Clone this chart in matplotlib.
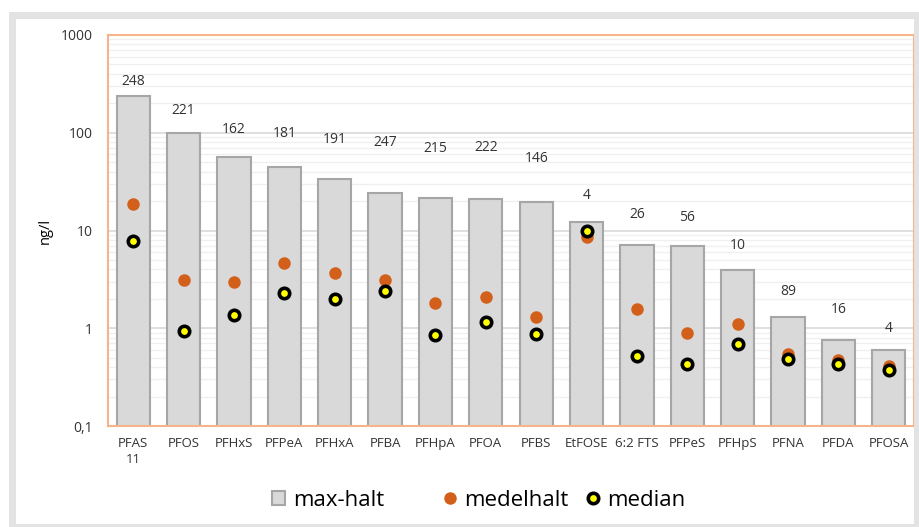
import matplotlib.pyplot as plt
from matplotlib.patches import Rectangle
from matplotlib.ticker import FixedLocator, LogLocator, NullFormatter

plt.rcParams['font.family'] = ['Open Sans', 'DejaVu Sans']

categories = ['PFAS\n11', 'PFOS', 'PFHxS', 'PFPeA', 'PFHxA', 'PFBA', 'PFHpA', 'PFOA',
              'PFBS', 'EtFOSE', '6:2 FTS', 'PFPeS', 'PFHpS', 'PFNA', 'PFDA', 'PFOSA']
max_halt = [236, 100, 57, 45, 34, 24, 21.4, 21, 19.5, 12.1, 7.1, 6.9, 3.9, 1.3, 0.75, 0.6]
medelhalt = [18.5, 3.1, 3.0, 4.7, 3.65, 3.1, 1.8, 2.08, 1.3, 8.5, 1.56, 0.89, 1.1, 0.54, 0.47, 0.41]
median = [7.9, 0.93, 1.36, 2.28, 1.98, 2.39, 0.85, 1.15, 0.87, 9.8, 0.52, 0.43, 0.69, 0.49, 0.43, 0.37]
# antal prover, visas som etiketter
antal = [248, 221, 162, 181, 191, 247, 215, 222, 146, 4, 26, 56, 10, 89, 16, 4]
antal_y = [336, 170, 109, 99, 86, 80, 69, 71, 55, 23, 14.7, 13.7, 7.1, 2.4, 1.56, 1.0]

orange = '#D2601A'
frame = '#F6B48A'

fig = plt.figure(figsize=(9.19, 5.27), dpi=100)
fig.patches.append(Rectangle((12 / 919, 0), 905 / 919, 1 - 15 / 527, transform=fig.transFigure,
                             fill=False, edgecolor='#E3E3E3', linewidth=5))
ax = fig.add_axes([108 / 919, 1 - 426 / 527, 806 / 919, 391 / 527])

x = range(len(categories))
bars = ax.bar(x, max_halt, width=0.66, color='#D9D9D9', edgecolor='#A6A6A6', linewidth=1.5,
              label='max-halt', zorder=2)
m1, = ax.plot(x, medelhalt, 'o', color=orange, markersize=9, markeredgewidth=0,
              label='medelhalt', zorder=3)
m2, = ax.plot(x, median, 'o', markerfacecolor='#FFFF00', markeredgecolor='black', markersize=7.5,
              markeredgewidth=2.6, label='median', zorder=4)

for i, (n, y) in enumerate(zip(antal, antal_y)):
    ax.text(i, y, str(n), ha='center', va='center', fontsize=10, color='#333333', zorder=5)

ax.set_yscale('log')
ax.set_ylim(0.1, 1000)
ax.set_xlim(-0.5, len(categories) - 0.5)
ax.yaxis.set_major_locator(FixedLocator([0.1, 1, 10, 100, 1000]))
ax.set_yticklabels(['0,1', '1', '10', '100', '1000'])
ax.yaxis.set_minor_locator(LogLocator(base=10, subs=range(2, 10)))
ax.yaxis.set_minor_formatter(NullFormatter())
ax.grid(axis='y', which='major', color='#D9D9D9', linewidth=1.2, zorder=0)
ax.grid(axis='y', which='minor', color='#F0F0F0', linewidth=1, zorder=0)
ax.set_axisbelow(True)

ax.set_xticks(list(x))
ax.set_xticklabels(categories, fontsize=9.5, color='#333333', linespacing=1.3)
ax.tick_params(axis='y', labelsize=10, colors='#333333', length=0, pad=11)
ax.tick_params(axis='x', length=0, pad=8)
ax.tick_params(which='minor', length=0)
for s in ax.spines.values():
    s.set_color(frame)
    s.set_linewidth(1.5)

ax.set_ylabel('ng/l', fontsize=10.5, labelpad=6, color='black')

# legend entries placed one by one, like the excel legend
for h, lab, left in [(bars, 'max-halt', 272), (m1, 'medelhalt', 443.5), (m2, 'median', 586.5)]:
    fig.legend([h], [lab], loc='center left', bbox_to_anchor=(left / 919, 1 - 500 / 527),
               frameon=False, fontsize=16, handlelength=0.6, handleheight=0.6,
               handletextpad=0.35, borderpad=0, borderaxespad=0)

fig.savefig('out.png', dpi=100)
